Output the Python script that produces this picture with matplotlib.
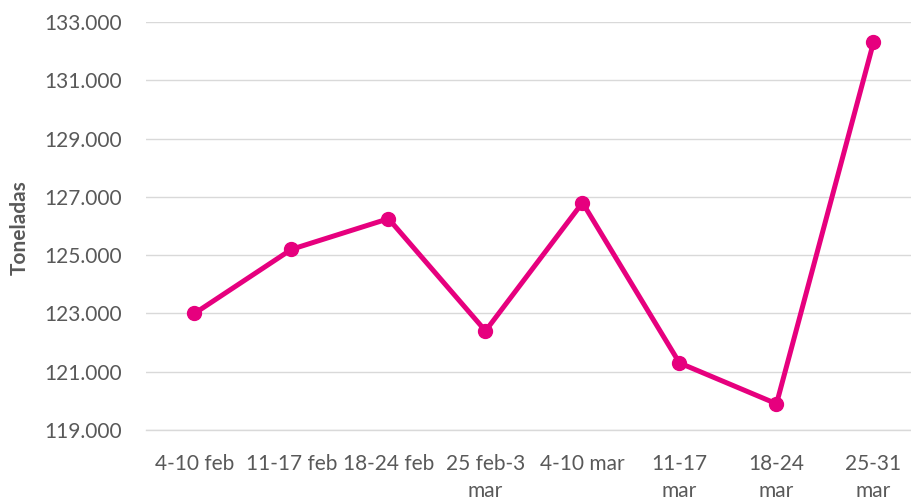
import matplotlib
matplotlib.use("Agg")
import matplotlib.pyplot as plt
from matplotlib.ticker import FuncFormatter

weeks = ["4-10 feb", "11-17 feb", "18-24 feb", "25 feb-3\nmar", "4-10 mar",
         "11-17\nmar", "18-24\nmar", "25-31\nmar"]
tonnes = [123000, 125200, 126250, 122400, 126800, 121300, 119900, 132300]
y_ticks = [119000, 121000, 123000, 125000, 127000, 129000, 131000, 133000]

plt.rcParams["font.family"] = ["Lato", "DejaVu Sans"]

fig = plt.figure(figsize=(9.12, 4.99), dpi=100)
ax = fig.add_axes([146 / 912, 1 - 430 / 499, 776 / 912, 408 / 499])

x = range(len(weeks))
ax.plot(x, tonnes, color="#E6007E", linewidth=3.6, marker="o", markersize=10,
        solid_capstyle="round", solid_joinstyle="round", zorder=3)

ax.set_xlim(-0.5, len(weeks) - 0.5)
ax.set_ylim(y_ticks[0], y_ticks[-1])
ax.set_yticks(y_ticks)
ax.yaxis.set_major_formatter(FuncFormatter(lambda v, p: f"{int(v):,}".replace(",", ".")))
ax.set_xticks(list(x))
ax.set_xticklabels(weeks, linespacing=1.45)

ax.grid(axis="y", color="#D9D9D9", linewidth=1.0)
ax.set_axisbelow(True)
for s in ["top", "right", "left"]:
    ax.spines[s].set_visible(False)
ax.spines["bottom"].set_color("#D9D9D9")
ax.spines["bottom"].set_linewidth(1.0)
ax.tick_params(length=0, labelsize=15, colors="#595959")
ax.tick_params(axis="y", pad=17)
ax.tick_params(axis="x", pad=17)

fig.text(20 / 912, 1 - 228 / 499, "Toneladas", rotation=90, fontsize=15,
         fontweight="bold", color="#595959", ha="center", va="center")

fig.savefig("out.png", dpi=100)
